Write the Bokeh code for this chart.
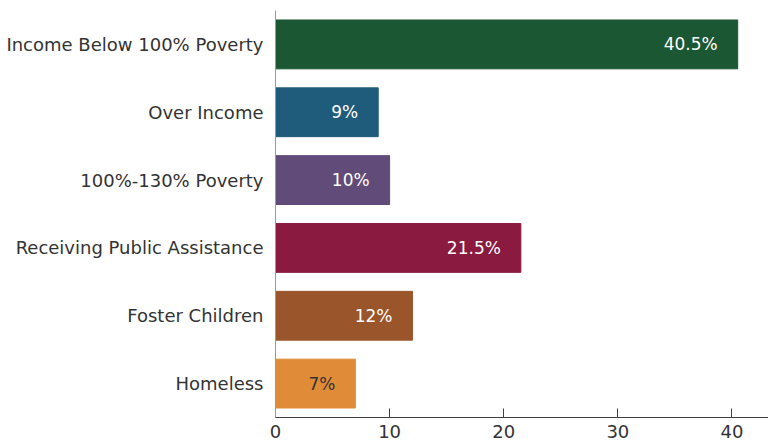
from bokeh.plotting import figure
from bokeh.models import ColumnDataSource, Range1d, FixedTicker
from bokeh.core.properties import value
from bokeh.embed import file_html
from bokeh.resources import INLINE

categories = ["Homeless", "Foster Children", "Receiving Public Assistance",
              "100%-130% Poverty", "Over Income", "Income Below 100% Poverty"]
values = [7, 12, 21.5, 10, 9, 40.5]
labels = ["7%", "12%", "21.5%", "10%", "9%", "40.5%"]
colors = ["#e08b38", "#9b552b", "#8a1a40", "#614b78", "#1f5b7b", "#1b5733"]
label_colors = ["#333333", "#ffffff", "#ffffff", "#ffffff", "#ffffff", "#ffffff"]
x_ticks = [0, 10, 20, 30, 40]

FONT = "DejaVu Sans"

src = ColumnDataSource(dict(cat=categories, val=values, lab=labels,
                            col=colors, lcol=label_colors))

p = figure(width=768, height=448, y_range=categories, x_range=Range1d(0, 43.2),
           output_backend="svg", toolbar_location=None,
           min_border_left=275, min_border_right=0, min_border_top=10,
           min_border_bottom=31)

p.hbar(y="cat", right="val", left=0, height=0.72, color="col", source=src)
p.text(x="val", y="cat", text="lab", text_color="lcol", source=src,
       text_align="right", text_baseline="middle", x_offset=-20,
       text_font=value(FONT), text_font_size="17px")

p.outline_line_color = None
p.xgrid.grid_line_color = None
p.ygrid.grid_line_color = None

p.xaxis.ticker = FixedTicker(ticks=x_ticks)
p.xaxis.major_tick_in = 9
p.xaxis.major_tick_out = 0
p.xaxis.minor_tick_line_color = None
p.xaxis.axis_line_color = "#404040"
p.xaxis.axis_line_width = 1
p.xaxis.major_tick_line_color = "#404040"
p.xaxis.major_label_text_font = FONT
p.xaxis.major_label_text_font_size = "18px"
p.xaxis.major_label_text_color = "#333333"
p.xaxis.major_label_standoff = 7

p.yaxis.major_tick_line_color = None
p.yaxis.minor_tick_line_color = None
p.yaxis.axis_line_color = "#999999"
p.yaxis.major_label_text_font = FONT
p.yaxis.major_label_text_font_size = "18px"
p.yaxis.major_label_text_color = "#333333"
p.yaxis.major_label_standoff = 6

open("out.html", "w").write(file_html(p, INLINE))
